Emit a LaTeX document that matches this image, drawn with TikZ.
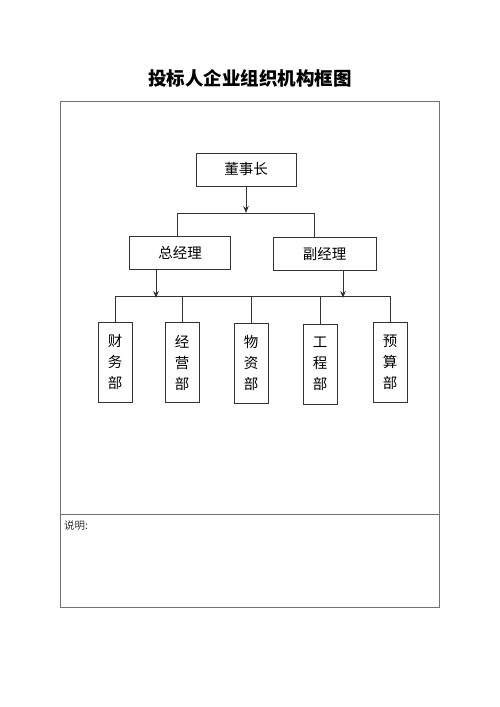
\documentclass[tikz,border=0pt]{standalone}
\usepackage{fontspec}
\usetikzlibrary{arrows.meta}
\newfontfamily\cjk{Noto Sans CJK SC}
\begin{document}
\begin{tikzpicture}[x=1pt,y=-1pt,
  box/.style={draw=black!80, line width=0.9pt, rectangle, inner sep=0pt, font=\cjk\fontsize{14.5}{16}\selectfont},
  mgr/.style={box, minimum width=101pt, minimum height=33pt},
  dept/.style={box, minimum width=34pt, minimum height=80pt, align=center, font=\cjk\fontsize{14.5}{21}\selectfont},
  conn/.style={draw=black!80, line width=0.8pt},
  arr/.style={conn, -{Stealth[length=7pt,width=5.5pt]}},
  frame/.style={draw=black!55, line width=1pt}]
\useasboundingbox (0,0) rectangle (500,707);
\fill[white] (0,0) rectangle (500,707);
\node[font=\cjk\bfseries\fontsize{18.5}{20}\selectfont] (title) at (250,78) {投标人企业组织机构框图};
\draw[frame] (60,101) rectangle (439,607);
\draw[frame] (60,514) -- (439,514);
\node[anchor=west, font=\cjk\fontsize{10.5}{12}\selectfont, text=black!80, inner sep=0pt] (note) at (64,526) {说明:};
\node[mgr, minimum width=100pt] (chair) at (246,169.5) {董事长};
\node[mgr] (gm) at (180,252.5) {总经理};
\node[mgr, minimum width=103pt] (vgm) at (324.5,253.5) {副经理};
\node[dept] (d1) at (115,362) {财\\务\\部};
\node[dept] (d2) at (182,362.5) {经\\营\\部};
\node[dept] (d3) at (251,363) {物\\资\\部};
\node[dept] (d4) at (320,364) {工\\程\\部};
\node[dept] (d5) at (390,362) {预\\算\\部};
\coordinate (jl) at (177,213);
\coordinate (jr) at (314,213);
\coordinate (ga) at (156,296);
\coordinate (va) at (343,296);
\coordinate (hl) at (0,296);
\draw[arr] (chair.south) -- (chair.south |- jl);
\draw[conn] (jl) -- (jr);
\draw[conn] (jl) -- (jl |- gm.north);
\draw[conn] (jr) -- (jr |- vgm.north);
\draw[arr] (ga |- gm.south) -- ([yshift=-2pt]ga);
\draw[arr] (va |- vgm.south) -- ([yshift=-2pt]va);
\draw[conn] (d1.north |- hl) -- (d5.north |- hl);
\foreach \d in {d1,d2,d3,d4,d5} \draw[conn] (\d.north) -- (\d.north |- hl);
\end{tikzpicture}
\end{document}
